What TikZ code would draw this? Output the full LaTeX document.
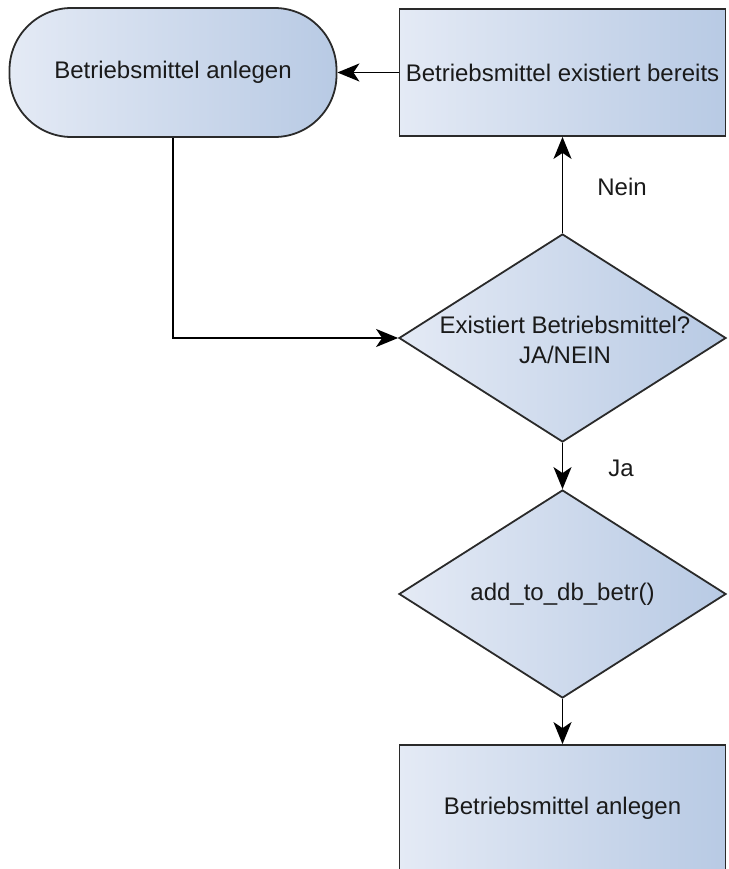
\documentclass[tikz,border=0pt]{standalone}
\usepackage{fontspec}
\setmainfont{Liberation Sans}
\usetikzlibrary{shapes.geometric,arrows.meta}

\definecolor{fillA}{HTML}{E4EAF5}
\definecolor{fillB}{HTML}{B8CAE4}
\definecolor{edgeC}{HTML}{2A2A2A}
\definecolor{txtC}{HTML}{1A1A1A}

\tikzset{
  x=1pt, y=-1pt,
  every node/.style={font=\fontsize{24}{30}\selectfont, text=txtC},
  shaded/.style={draw=edgeC, line width=1.8pt, left color=fillA, right color=fillB, inner sep=0pt},
  terminal/.style={shaded, rectangle, rounded corners=62pt, minimum width=327pt, minimum height=129pt},
  process/.style={shaded, rectangle, minimum width=326pt, minimum height=127pt},
  decision/.style={shaded, diamond, minimum width=327pt, minimum height=208pt},
  plain/.style={inner sep=0pt, align=center},
  flow/.style={draw=black, line width=1.8pt, -{Stealth[length=22pt,width=18pt,inset=6pt]}},
}

\begin{document}
\begin{tikzpicture}
  \useasboundingbox (0,0) rectangle (728,869);
  \clip (0,0) rectangle (728,869);

  % shapes
  \node[terminal] (start) at (173,72.5) {Betriebsmittel anlegen};
  \node[process] (exists) at (562.5,72.5) {Betriebsmittel existiert bereits};
  \node[decision] (check) at (562.5,338) {};
  \node[plain] (checktext) at (565,340) {Existiert Betriebsmittel?\\JA/NEIN};
  \node[decision] (adddb) at (562.5,594) {};
  \node[plain] (adddbtext) at (562.5,594) {add\_to\_db\_betr()};
  \node[process] (create) at (562.5,808.5) {Betriebsmittel anlegen};

  % connectors
  \draw[flow] (exists.west) -- (start.east);
  \draw[flow] (check.north) -- (exists.south);
  \draw[flow] (start.south) |- (check.west);
  \draw[flow] (check.south) -- (adddb.north);
  \draw[flow] (adddb.south) -- (create.north);

  % branch labels
  \node[plain] (nein) at (622,187) {Nein};
  \node[plain] (ja) at (621,468) {Ja};
\end{tikzpicture}
\end{document}
